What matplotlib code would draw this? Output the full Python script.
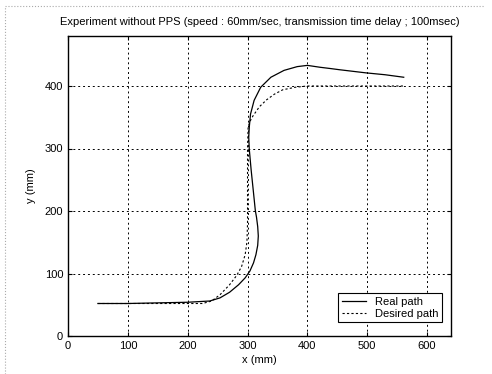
import matplotlib
matplotlib.use('Agg')
import matplotlib.pyplot as plt
from matplotlib.lines import Line2D

plt.rcParams['font.family'] = ['Liberation Sans', 'DejaVu Sans']
plt.rcParams['font.size'] = 8

# Real path (measured)
real_x = [50, 100, 150, 200, 237, 254, 270, 285, 296, 304, 310, 314, 317, 318,
          317, 315, 313, 310, 306, 303, 302, 303, 305, 311, 322, 339, 361, 383,
          400, 421, 438, 454, 498, 530, 561]
real_y = [52, 52, 53, 54, 56, 61, 70, 82, 93, 104, 117, 130, 145, 160,
          175, 190, 201, 229, 266, 298, 318, 335, 355, 377, 398, 414, 425, 431,
          433, 430, 428, 426, 421, 418, 414]

# Desired path
des_x = [50, 225, 240, 254, 270, 282, 290, 296, 299, 300, 300, 301, 305,
         309, 320, 332, 345, 359, 380, 400, 560]
des_y = [52, 52, 56, 66, 82, 97, 111, 130, 150, 180, 300, 335, 345,
         352, 367, 378, 387, 394, 398, 400, 400]

xticks = [0, 100, 200, 300, 400, 500, 600]
yticks = [0, 100, 200, 300, 400]

fig = plt.figure(figsize=(4.92, 3.74), dpi=100)
ax = fig.add_axes([68 / 492, 1 - 336 / 374, 383 / 492, 300 / 374])

ax.plot(real_x, real_y, color='black', linewidth=0.9, label='Real path')
ax.plot(des_x, des_y, color='black', linewidth=0.8, linestyle=(0, (2, 2)),
        label='Desired path')

ax.set_xlim(0, 640)
ax.set_ylim(0, 480)
ax.set_xticks(xticks)
ax.set_yticks(yticks)
ax.grid(True, color='black', linestyle=(0, (2, 3)), linewidth=0.7)
ax.tick_params(direction='in', length=3, top=True, right=True, labelsize=8)
for s in ax.spines.values():
    s.set_linewidth(1.0)

ax.set_title('Experiment without PPS (speed : 60mm/sec, transmission time delay ; 100msec)',
             fontsize=8, pad=8)
ax.set_xlabel('x (mm)', labelpad=3)
ax.set_ylabel('y (mm)', labelpad=6)

leg = ax.legend(loc='lower right', bbox_to_anchor=(0.976, 0.046), fancybox=False,
                framealpha=1, edgecolor='black', fontsize=8, handlelength=2.2,
                borderpad=0.3, labelspacing=0.2, borderaxespad=0)
leg.get_frame().set_linewidth(0.8)

# faint scan border on the left and top
fig.add_artist(Line2D([5 / 492, 5 / 492], [0, 1 - 6 / 374], color='#aaaaaa',
                      linewidth=0.8, linestyle=':'))
fig.add_artist(Line2D([5 / 492, 484 / 492], [1 - 6 / 374, 1 - 6 / 374],
                      color='#aaaaaa', linewidth=0.8, linestyle=':'))

plt.savefig('out.png', dpi=100)
